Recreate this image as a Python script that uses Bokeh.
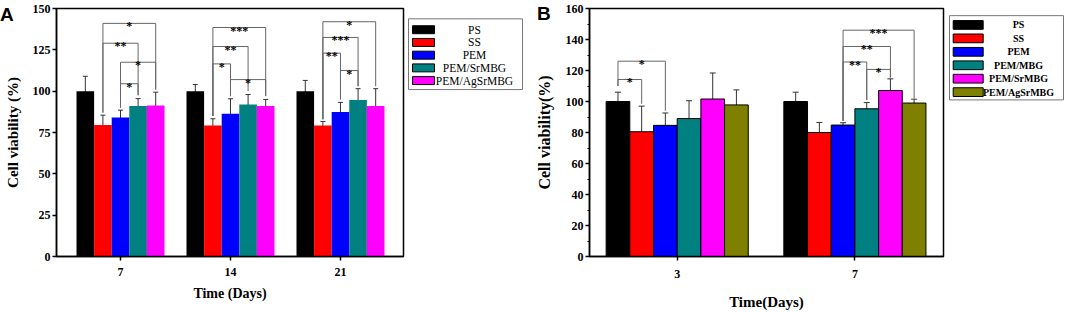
from bokeh.plotting import figure
from bokeh.models import Range1d, FixedTicker, Whisker, TeeHead, ColumnDataSource, Div
from bokeh.layouts import row
from bokeh.embed import file_html
from bokeh.resources import INLINE
from bokeh.core.properties import value

SERIF = "Liberation Serif"
SANS = "Liberation Sans"

# ---------------- Panel A data ----------------
a_days = ["7", "14", "21"]
a_series = ["PS", "SS", "PEM", "PEM/SrMBG", "PEM/AgSrMBG"]
a_colors = ["#000000", "#ff0000", "#0000ff", "#008080", "#ff00ff"]
a_ps = [100.0, 100.0, 100.0]
a_ps_err = [9.0, 4.0, 6.5]
a_ss = [79.5, 79.3, 79.2]
a_ss_err = [6.0, 4.0, 2.5]
a_pem = [84.0, 86.4, 87.4]
a_pem_err = [4.5, 9.0, 5.8]
a_srmbg = [91.0, 92.0, 94.7]
a_srmbg_err = [4.5, 6.0, 6.8]
a_agsrmbg = [91.4, 91.0, 91.0]
a_agsrmbg_err = [8.0, 4.0, 10.5]

# significance brackets for panel A: group, left bar, right bar, height, leg ends, label
a_br_group = [0, 0, 0, 0, 1, 1, 1, 1, 2, 2, 2, 2]
a_br_left = [1, 1, 2, 2, 1, 1, 1, 2, 1, 1, 1, 2]
a_br_right = [4, 3, 4, 3, 4, 3, 2, 4, 4, 3, 2, 3]
a_br_height = [141.0, 129.0, 117.5, 104.5, 138.5, 127.0, 116.5, 107.0, 142.0, 132.5, 123.0, 112.5]
a_br_left_end = [87.0, 87.0, 90.0, 90.0, 85.0, 85.0, 85.0, 97.0, 83.0, 83.0, 83.0, 95.0]
a_br_right_end = [101.0, 97.5, 101.0, 97.5, 97.0, 100.0, 97.0, 97.0, 103.0, 103.0, 95.0, 103.0]
a_br_label = ["*", "**", "*", "*", "***", "**", "*", "*", "*", "***", "**", "*"]

# ---------------- Panel B data ----------------
b_days = ["3", "7"]
b_series = ["PS", "SS", "PEM", "PEM/MBG", "PEM/SrMBG", "PEM/AgSrMBG"]
b_colors = ["#000000", "#ff0000", "#0000ff", "#008080", "#ff00ff", "#808000"]
b_ps = [100.0, 100.0]
b_ps_err = [6.0, 6.0]
b_ss = [80.5, 80.0]
b_ss_err = [16.5, 6.5]
b_pem = [84.6, 84.8]
b_pem_err = [8.0, 1.5]
b_mbg = [89.0, 95.3]
b_mbg_err = [11.5, 4.0]
b_srmbg = [101.6, 107.1]
b_srmbg_err = [16.8, 7.5]
b_agsrmbg = [97.8, 99.0]
b_agsrmbg_err = [9.7, 2.5]

b_br_group = [0, 0, 1, 1, 1, 1]
b_br_left = [0, 0, 2, 2, 2, 3]
b_br_right = [2, 1, 5, 4, 3, 4]
b_br_height = [126.0, 114.2, 146.0, 135.5, 125.5, 120.7]
b_br_left_end = [110.0, 110.0, 87.5, 87.5, 87.5, 101.0]
b_br_right_end = [94.0, 98.5, 102.0, 115.5, 101.0, 115.5]
b_br_label = ["*", "*", "***", "**", "**", "*"]


def make_panel(days, series, colors, means, errs, br, width, height,
               borders, xr, ymax, yticks, yminor, bar_w, bar_line,
               cap, tick_font, ylab_font, xlab_font, ylabel, xlabel,
               y_standoffs, x_standoffs):
    p = figure(width=width, height=height, output_backend="svg", toolbar_location=None,
               x_range=Range1d(*xr), y_range=Range1d(0, ymax),
               min_border_left=borders[0], min_border_right=borders[1],
               min_border_top=borders[2], min_border_bottom=borders[3])
    p.background_fill_color = "white"
    p.border_fill_color = "white"
    p.outline_line_color = "black"
    p.outline_line_width = 1.5
    p.xgrid.visible = False
    p.ygrid.visible = False

    n = len(series)
    c = (n - 1) / 2.0
    for i, (name, col) in enumerate(zip(series, colors)):
        xs = [g + (i - c) * bar_w for g in range(len(days))]
        src = ColumnDataSource(dict(x=xs, top=means[i],
                                    upper=[m + e for m, e in zip(means[i], errs[i])],
                                    lower=[m - e for m, e in zip(means[i], errs[i])]))
        if bar_line:
            p.vbar(x="x", top="top", width=bar_w, source=src, fill_color=col,
                   line_color="black", line_width=1)
        else:
            p.vbar(x="x", top="top", width=bar_w, source=src, fill_color=col,
                   line_color=None)
        w = Whisker(source=src, base="x", upper="upper", lower="lower",
                    line_color="#333333", line_width=1,
                    upper_head=TeeHead(size=cap, line_color="#333333", line_width=1),
                    lower_head=TeeHead(size=cap, line_color="#333333", line_width=1))
        p.add_layout(w)

    g_, l_, r_, h_, le_, re_, lab_ = br
    x0, y0, x1, y1 = [], [], [], []
    sx, sy = [], []
    for g, l, r, h, le, re in zip(g_, l_, r_, h_, le_, re_):
        xl = g + (l - c) * bar_w
        xrr = g + (r - c) * bar_w
        x0 += [xl, xl, xrr]
        y0 += [h, h, h]
        x1 += [xrr, xl, xrr]
        y1 += [h, le, re]
        sx.append((xl + xrr) / 2)
        sy.append(h)
    p.segment(x0=x0, y0=y0, x1=x1, y1=y1, line_color="#666666", line_width=1)
    p.text(x=sx, y=sy, text=lab_, text_font=value(SERIF), text_font_style="bold",
           text_font_size="12px", text_align="center", text_baseline="alphabetic",
           y_offset=3, text_color="black")

    p.xaxis.ticker = FixedTicker(ticks=list(range(len(days))), minor_ticks=[])
    p.xaxis.major_label_overrides = {i: d for i, d in enumerate(days)}
    p.yaxis.ticker = FixedTicker(ticks=yticks, minor_ticks=yminor)
    for ax in (p.xaxis[0], p.yaxis[0]):
        ax.axis_line_width = 1.5
        ax.axis_line_color = "black"
        ax.major_tick_line_width = 1.5
        ax.major_tick_line_color = "black"
        ax.minor_tick_line_color = "black"
        ax.minor_tick_line_width = 1
        ax.major_tick_in = 0
        ax.major_tick_out = 4
        ax.minor_tick_in = 0
        ax.minor_tick_out = 2
        ax.major_label_text_font = SERIF
        ax.major_label_text_font_style = "bold"
        ax.major_label_text_font_size = tick_font
        ax.major_label_text_color = "black"
        ax.axis_label_text_font = SERIF
        ax.axis_label_text_font_style = "bold"
        ax.axis_label_text_color = "black"
    p.yaxis.axis_label_text_font_size = ylab_font
    p.xaxis.axis_label_text_font_size = xlab_font
    p.yaxis.axis_label = ylabel
    p.xaxis.axis_label = xlabel
    p.yaxis.major_label_standoff = y_standoffs[0]
    p.yaxis.axis_label_standoff = y_standoffs[1]
    p.xaxis.major_label_standoff = x_standoffs[0]
    p.xaxis.axis_label_standoff = x_standoffs[1]
    return p


def make_legend(width, height, series, colors, box, sw_x, sw_w, sw_h, row0, step,
                text_x, font_size, font_style):
    f = figure(width=width, height=height, output_backend="svg", toolbar_location=None,
               x_range=Range1d(0, width), y_range=Range1d(height, 0),
               min_border_left=0, min_border_right=0, min_border_top=0, min_border_bottom=0)
    f.axis.visible = False
    f.xgrid.visible = False
    f.ygrid.visible = False
    f.outline_line_color = None
    f.background_fill_color = "white"
    f.border_fill_color = "white"
    f.quad(left=[box[0]], right=[box[1]], top=[box[2]], bottom=[box[3]],
           fill_color="white", line_color="#777777", line_width=1)
    ys = [row0 + k * step for k in range(len(series))]
    f.rect(x=[sw_x] * len(series), y=ys, width=sw_w, height=sw_h,
           fill_color=colors, line_color="black", line_width=1)
    f.text(x=[text_x] * len(series), y=ys, text=series, text_font=value(SERIF),
           text_font_style=font_style, text_font_size=font_size, text_align="center",
           text_baseline="middle", text_color="black")
    return f


def make_letter(text, left, top):
    return Div(text=text, width=20, height=24,
               styles={"position": "absolute", "left": f"{left}px", "top": f"{top}px",
                       "font-family": "Liberation Sans", "font-weight": "bold",
                       "font-size": "19px", "color": "black", "line-height": "22px",
                       "z-index": "10"})


H = 312
pa = make_panel(a_days, a_series, a_colors,
                [a_ps, a_ss, a_pem, a_srmbg, a_agsrmbg],
                [a_ps_err, a_ss_err, a_pem_err, a_srmbg_err, a_agsrmbg_err],
                (a_br_group, a_br_left, a_br_right, a_br_height, a_br_left_end,
                 a_br_right_end, a_br_label),
                405, H, (56, 2, 8, 56), (-0.582, 2.573), 150,
                list(range(0, 151, 25)), [], 0.16, False, 5,
                "12px", "15px", "14px", "Cell viability (%)", "Time (Days)",
                (2, 9), (7, 7))

la = make_legend(123, H, a_series, a_colors, (3, 117, 13, 102), 18, 22, 10,
                 26.7, 16, 69, "11.5px", "normal")

pb = make_panel(b_days, b_series, b_colors,
                [b_ps, b_ss, b_pem, b_mbg, b_srmbg, b_agsrmbg],
                [b_ps_err, b_ss_err, b_pem_err, b_mbg_err, b_srmbg_err, b_agsrmbg_err],
                (b_br_group, b_br_left, b_br_right, b_br_height, b_br_left_end,
                 b_br_right_end, b_br_label),
                417, H, (61, 2, 8, 50), (-0.4935, 1.4986), 160,
                list(range(0, 161, 20)), list(range(10, 160, 20)), 0.1333, True, 6,
                "12px", "16px", "15px", "Cell viability(%)", "Time(Days)",
                (2, 10), (9, 13))

lb = make_legend(120, H, b_series, b_colors, (4, 118, 9, 115), 22.7, 30, 11,
                 20.7, 16.9, 73, "10px", "bold")

letter_a = make_letter("A", -5, -1)
letter_b = make_letter("B", 532, -2)

layout = row(pa, la, pb, lb, letter_a, letter_b)
open("out.html", "w").write(file_html(layout, INLINE))
